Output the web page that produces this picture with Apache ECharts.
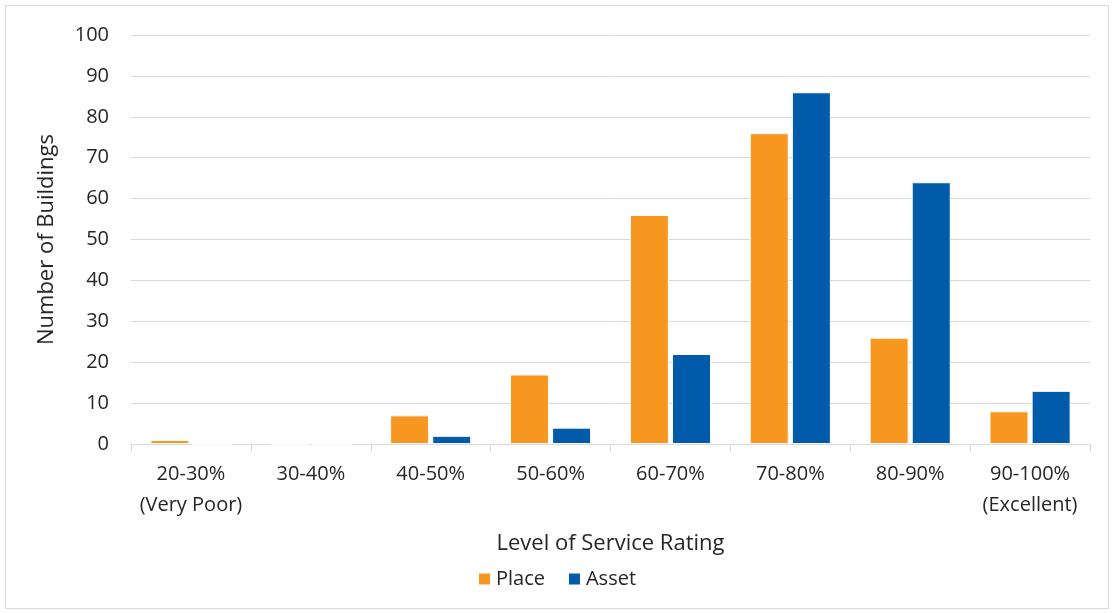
<!DOCTYPE html>
<html>
<head>
<meta charset="utf-8">
<script src="https://cdn.jsdelivr.net/npm/echarts@6/dist/echarts.min.js"></script>
<style>
html, body { margin: 0; padding: 0; background: #fff; }
#container { width: 1113px; height: 613px; }
#frame { position: absolute; left: 5px; top: 5px; width: 1102px; height: 602px; border: 1px solid #d9d9d9; pointer-events: none; }
</style>
</head>
<body>
<div id="container"></div>
<div id="frame"></div>
<script>
var categories = ['20-30%\n(Very Poor)', '30-40%', '40-50%', '50-60%', '60-70%', '70-80%', '80-90%', '90-100%\n(Excellent)'];
var placeValues = [1, 0, 7, 17, 56, 76, 26, 8];
var assetValues = [0, 0, 2, 4, 22, 86, 64, 13];

var fontName = 'Open Sans';
var dom = document.getElementById('container');
var myChart = echarts.init(dom);
var option = {
    animation: false,
    textStyle: { fontFamily: fontName },
    grid: { left: 131, right: 23, top: 35, bottom: 169 },
    legend: {
        bottom: 19,
        left: 'center',
        itemWidth: 13,
        itemHeight: 13,
        itemGap: 22,
        icon: 'rect',
        textStyle: { fontSize: 20, color: '#262626', fontFamily: fontName },
        data: ['Place', 'Asset']
    },
    xAxis: {
        type: 'category',
        data: categories,
        name: 'Level of Service Rating',
        nameLocation: 'middle',
        nameGap: 89,
        nameTextStyle: { fontSize: 22, color: '#262626', fontFamily: fontName },
        axisLine: { lineStyle: { color: '#d9d9d9', width: 1 } },
        axisTick: { show: true, length: 8, lineStyle: { color: '#d9d9d9' } },
        axisLabel: { fontSize: 20, color: '#262626', margin: 15, lineHeight: 31, interval: 0 }
    },
    yAxis: {
        type: 'value',
        min: 0,
        max: 100,
        interval: 10,
        name: 'Number of Buildings',
        nameLocation: 'middle',
        nameGap: 73,
        nameTextStyle: { fontSize: 22, color: '#262626', fontFamily: fontName },
        axisLine: { show: false },
        axisTick: { show: false },
        splitLine: { lineStyle: { color: '#d9d9d9', width: 1 } },
        axisLabel: { fontSize: 20, color: '#262626', margin: 22 }
    },
    series: [
        {
            name: 'Place',
            type: 'bar',
            data: placeValues,
            barWidth: 39,
            barGap: '8%',
            itemStyle: { color: '#f7971f', borderColor: '#fff', borderWidth: 1 }
        },
        {
            name: 'Asset',
            type: 'bar',
            data: assetValues,
            barWidth: 39,
            itemStyle: { color: '#005baa', borderColor: '#fff', borderWidth: 1 }
        }
    ]
};
myChart.setOption(option, true);
</script>
</body>
</html>
